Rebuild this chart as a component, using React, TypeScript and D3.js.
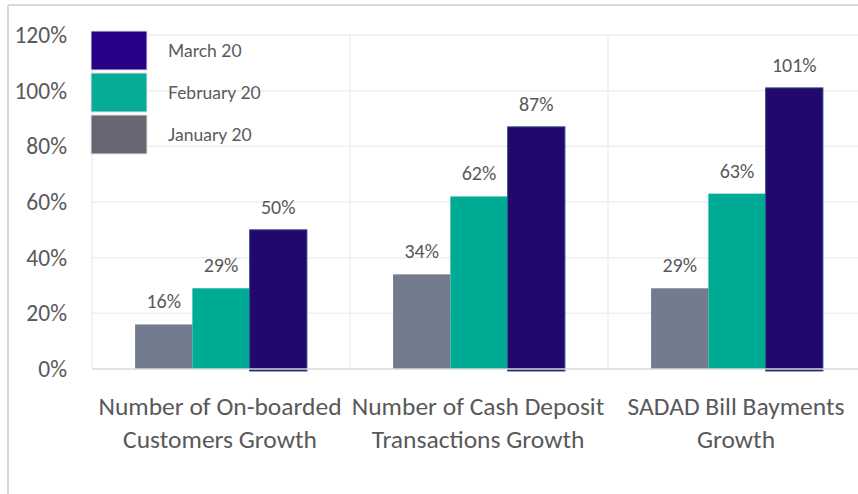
import React from "react";
import * as d3 from "d3";

const categories = [
  ["Number of On-boarded", "Customers Growth"],
  ["Number of Cash Deposit", "Transactions Growth"],
  ["SADAD Bill Bayments", "Growth"],
];
const seriesNames = ["January 20", "February 20", "March 20"];
const january = [16, 34, 29];
const february = [29, 62, 63];
const march = [50, 87, 101];
const yTicks = [0, 20, 40, 60, 80, 100, 120];

const barColors = ["#737b8f", "#00ab96", "#22086c"];
const legendColors = ["#686672", "#07ab98", "#27008a"];
const W = 858;
const H = 494;
const labelFont = "Carlito, 'Liberation Sans Narrow', 'DejaVu Sans Condensed', sans-serif";

export default function App() {
  const series = [january, february, march];
  const x0 = d3.scaleBand<number>().domain([0, 1, 2]).range([92, 866]).padding(0);
  const bw = x0.bandwidth();
  const x1 = d3.scaleBand<number>().domain([0, 1, 2]).range([bw * 0.167, bw * 0.833]).padding(0);
  const y = d3.scaleLinear().domain([0, 120]).range([369, 35]);

  return (
    <svg width={W} height={H} style={{ position: "absolute", left: 0, top: 0, background: "#fff" }}>
      <rect x={0} y={0} width={W} height={H} fill="#fff" />
      {/* frame */}
      <line x1={8} x2={W} y1={5} y2={5} stroke="#d9d9d9" strokeWidth={2} />
      <line x1={8} x2={8} y1={5} y2={H} stroke="#d9d9d9" strokeWidth={2} />
      {/* gridlines */}
      {yTicks.filter((t) => t > 0).map((t) => (
        <line key={t} x1={92} x2={W} y1={y(t)} y2={y(t)} stroke="#efefef" strokeWidth={1.5} />
      ))}
      {[0, 1, 2].map((i) => (
        <line key={i} x1={x0(i)!} x2={x0(i)!} y1={y(120)} y2={y(0)} stroke="#efefef" strokeWidth={1.5} />
      ))}
      {/* y tick labels */}
      {yTicks.map((t) => (
        <text key={t} x={67} y={y(t) + 8} textAnchor="end" fontFamily={labelFont} fontSize={23.5} fill="#595959">
          {t}%
        </text>
      ))}
      {/* bars */}
      {series.map((vals, s) =>
        vals.map((v, c) => {
          const bx = x0(c)! + x1(s)!;
          return (
            <g key={`${s}-${c}`}>
              <rect
                x={bx}
                y={y(v)}
                width={x1.bandwidth()}
                height={y(0) - y(v) + (s === 2 ? 2 : 0)}
                fill={barColors[s]}
                stroke={s === 2 ? "#2e4f7e" : "none"}
                strokeWidth={s === 2 ? 1 : 0}
              />
              <text
                x={bx + x1.bandwidth() / 2}
                y={y(v) - 16}
                textAnchor="middle"
                fontFamily={labelFont}
                fontSize={20}
                fill="#595959"
              >
                {v}%
              </text>
            </g>
          );
        })
      )}
      {/* baseline */}
      <line x1={92} x2={W} y1={y(0)} y2={y(0)} stroke="#d9d9d9" strokeWidth={1.5} />
      {/* category labels */}
      {categories.map((lines, c) => (
        <text key={c} textAnchor="middle" fontFamily={labelFont} fontSize={25.5} fill="#595959">
          {lines.map((ln, k) => (
            <tspan key={k} x={x0(c)! + bw / 2 - 1} y={415 + k * 33}>
              {ln}
            </tspan>
          ))}
        </text>
      ))}
      {/* legend */}
      {[2, 1, 0].map((s, k) => (
        <g key={s}>
          <rect x={91} y={31 + k * 42} width={56} height={39} fill={legendColors[s]} stroke="#e6e6e6" strokeWidth={1} />
          <text x={168} y={57 + k * 42} fontFamily="Lato, sans-serif" fontSize={17.5} fill="#5a5a5a">
            {seriesNames[s]}
          </text>
        </g>
      ))}
    </svg>
  );
}
